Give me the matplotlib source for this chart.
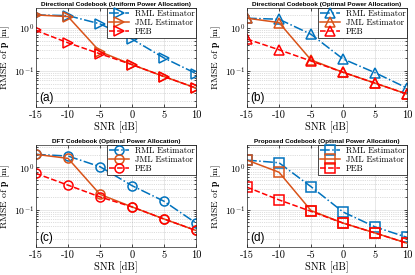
import matplotlib
matplotlib.use("Agg")
import matplotlib.pyplot as plt
from matplotlib.ticker import LogLocator, NullFormatter, FixedLocator

plt.rcParams['font.family'] = ['cmr10', 'DejaVu Serif']
plt.rcParams['mathtext.fontset'] = 'cm'
plt.rcParams['axes.unicode_minus'] = False

snr = [-15, -10, -5, 0, 5, 10]

# (a) directional codebook, uniform power allocation
rml_a = [2.0, 1.93, 1.24, 0.55, 0.20, 0.087]
jml_a = [2.0, 1.83, 0.28, 0.14, 0.074, 0.040]
peb_a = [0.87, 0.45, 0.25, 0.14, 0.074, 0.040]

# (b) directional codebook, optimal power allocation
rml_b = [1.68, 1.59, 0.71, 0.19, 0.091, 0.040]
jml_b = [1.68, 1.33, 0.18, 0.093, 0.052, 0.029]
peb_b = [0.55, 0.31, 0.17, 0.093, 0.052, 0.029]

# (c) DFT codebook, optimal power allocation
rml_c = [2.04, 1.86, 1.04, 0.37, 0.158, 0.048]
jml_c = [2.04, 1.64, 0.23, 0.116, 0.060, 0.032]
peb_c = [0.72, 0.38, 0.20, 0.116, 0.060, 0.032]

# (d) proposed codebook, optimal power allocation
rml_d = [1.49, 1.29, 0.35, 0.088, 0.039, 0.022]
jml_d = [1.49, 0.77, 0.095, 0.048, 0.028, 0.016]
peb_d = [0.34, 0.17, 0.091, 0.048, 0.028, 0.016]

titles = ['Directional Codebook (Uniform Power Allocation)',
          'Directional Codebook (Optimal Power Allocation)',
          'DFT Codebook (Optimal Power Allocation)',
          'Proposed Codebook (Optimal Power Allocation)']
tags = ['(a)', '(b)', '(c)', '(d)']
markers = ['>', '^', 'o', 's']
series = [(rml_a, jml_a, peb_a), (rml_b, jml_b, peb_b),
          (rml_c, jml_c, peb_c), (rml_d, jml_d, peb_d)]
ylims = [(0.0145, 2.9), (0.0145, 2.9), (0.013, 3.4), (0.013, 3.4)]

W, H = 415, 275
boxes = [(36, 8, 160, 99), (247, 8, 160, 99),
         (36, 145, 160, 102), (247, 145, 160, 102)]

blue = (0, 0.447, 0.741)
orange = (0.85, 0.325, 0.098)
red = (1, 0, 0)

fig = plt.figure(figsize=(W / 100, H / 100), dpi=100)

for i in range(4):
    x0, y0, w, h = boxes[i]
    ax = fig.add_axes([x0 / W, (H - y0 - h) / H, w / W, h / H])
    rml, jml, peb = series[i]
    m = markers[i]
    ms = 7.5 if m in ('>', '^') else 6.5
    kw = dict(marker=m, markersize=ms, markerfacecolor='none', markeredgewidth=1.1, linewidth=1.1)
    ax.plot(snr, rml, '-.', color=blue, label='RML Estimator', **kw)
    ax.plot(snr, jml, '-', color=orange, label='JML Estimator', **kw)
    ax.plot(snr, peb, '--', color=red, label='PEB', **kw)
    ax.set_yscale('log')
    ax.set_xlim(-15, 10)
    ax.set_ylim(*ylims[i])
    ax.set_xticks(snr)
    ax.set_xticklabels([str(s) for s in snr])
    ax.yaxis.set_major_locator(FixedLocator([0.1, 1.0]))
    ax.set_yticklabels([r'$10^{-1}$', r'$10^{0}$'])
    ax.yaxis.set_minor_locator(LogLocator(base=10, subs=range(2, 10)))
    ax.yaxis.set_minor_formatter(NullFormatter())
    ax.tick_params(which='both', direction='in', labelsize=7.5, length=2, width=0.5, pad=2.5,
                   top=True, right=True)
    ax.tick_params(axis='y', labelsize=7, pad=1.5)
    ax.tick_params(which='minor', length=1.2)
    ax.grid(True, which='major', color=(0.15, 0.15, 0.15), alpha=0.15, linewidth=0.5)
    ax.grid(True, which='minor', axis='y', color=(0.15, 0.15, 0.15), alpha=0.3,
            linestyle=':', linewidth=0.5)
    for sp in ax.spines.values():
        sp.set_linewidth(0.5)
        sp.set_color((0.15, 0.15, 0.15))
    ax.set_xlabel('SNR [dB]', fontsize=7.5, labelpad=1)
    ax.set_ylabel(r'RMSE of $\mathbf{p}$ [m]', fontsize=7)
    ax.yaxis.set_label_coords(-24 / w, 0.5)
    ax.set_title(titles[i], fontsize=4.6, fontweight='bold', family='Liberation Sans', pad=1.5)
    ax.text(0.02, 0.03, tags[i], transform=ax.transAxes, fontsize=8.5, family='Liberation Sans',
            ha='left', va='bottom')
    leg = ax.legend(loc='upper right', fontsize=6.2, handlelength=2.4, borderaxespad=0,
                    fancybox=False, labelspacing=0.05, borderpad=0.2, handletextpad=0.6,
                    framealpha=1)
    leg.get_frame().set_edgecolor('black')
    leg.get_frame().set_linewidth(0.5)

fig.savefig('out.png', dpi=100)
